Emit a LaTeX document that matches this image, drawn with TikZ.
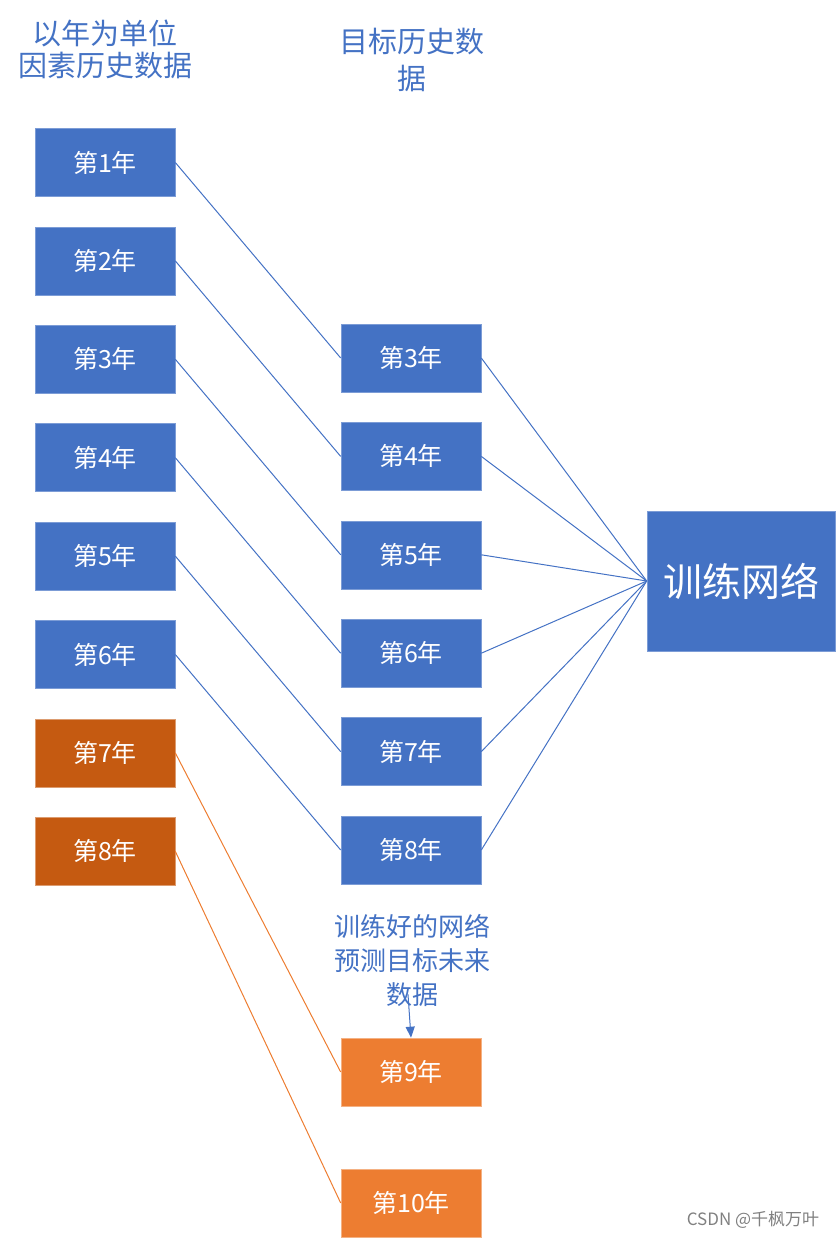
\documentclass[tikz,border=0pt]{standalone}
\usepackage{fontspec}
\setmainfont{Noto Sans CJK SC}
\usetikzlibrary{arrows.meta}
\definecolor{boxblue}{RGB}{68,114,196}
\definecolor{darkorange}{RGB}{197,90,17}
\definecolor{lightorange}{RGB}{237,125,49}

\begin{document}
\begin{tikzpicture}[x=1pt,y=-1pt,
  yearbox/.style={draw=boxblue!70!white, line width=0.6pt, fill=boxblue, text=white,
    minimum width=140pt, minimum height=68pt, inner sep=0pt,
    font=\fontsize{25}{30}\selectfont},
  oldbox/.style={yearbox, fill=darkorange, draw=darkorange!60!white},
  futbox/.style={yearbox, fill=lightorange, draw=lightorange!60!white},
  headtext/.style={text=boxblue, align=center, inner sep=0pt},
  bluelink/.style={draw=boxblue, line width=1pt},
  orangelink/.style={draw=lightorange, line width=1pt}]
  \useasboundingbox (0,0) rectangle (837,1239);

  % column headings
  \node[headtext, font=\fontsize{29}{32}\selectfont] (srchead) at (105,49) {以年为单位\\因素历史数据};
  \node[headtext, font=\fontsize{29}{37}\selectfont] (tgthead) at (412,60) {目标历史数\\据};

  % factor history, one box per year
  \foreach \i in {1,...,6}
    \node[yearbox] (f\i) at (105,{162.5+98.4*(\i-1)}) {第\i{}年};
  \foreach \i in {7,8}
    \node[oldbox] (f\i) at (105,{162.5+98.4*(\i-1)}) {第\i{}年};

  % target history
  \foreach \k in {3,...,8}
    \node[yearbox] (t\k) at (411,{358+98.4*(\k-3)}) {第\k{}年};

  \foreach \i/\k in {1/3,2/4,3/5,4/6,5/7,6/8}
    \draw[bluelink] (f\i.east) -- (t\k.west);

  % the network
  \node[yearbox, minimum width=188pt, minimum height=140pt,
    font=\fontsize{39}{44}\selectfont] (net) at (741,581) {训练网络};
  \foreach \k in {3,...,8}
    \draw[bluelink] (t\k.east) -- (net.west);

  % prediction
  \node[futbox] (p9) at (411,1072) {第9年};
  \node[futbox] (p10) at (411,1203) {第10年};
  \draw[orangelink] (f7.east) -- (p9.west);
  \draw[orangelink] (f8.east) -- (p10.west);

  \node[headtext, font=\fontsize{26}{34}\selectfont] (pred) at (412,960) {训练好的网络\\预测目标未来\\数据};
  \draw[bluelink, -{Triangle[width=9pt,length=11pt]}] ([xshift=-4pt,yshift=12pt]pred.south) -- (p9.north);

  \node[text=gray, font=\fontsize{17}{20}\selectfont] (mark) at (753,1220) {CSDN @千枫万叶};
\end{tikzpicture}
\end{document}
